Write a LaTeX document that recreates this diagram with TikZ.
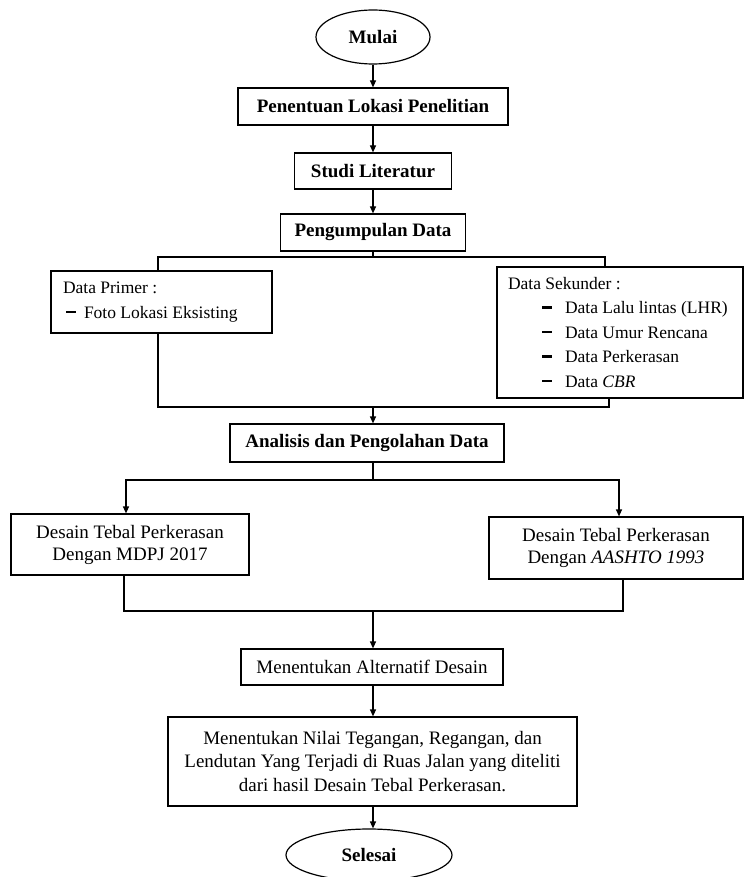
\documentclass[tikz,border=0pt]{standalone}
\usepackage{fontspec}
\setmainfont{Liberation Serif}
\usetikzlibrary{shapes.geometric,arrows.meta}
\newcommand{\butir}[2]{\hspace*{#1}\rule[5pt]{10pt}{2.6pt}\hspace{#2}}

\begin{document}
\begin{tikzpicture}[x=1pt,y=-1pt,line width=1.2pt,>={Triangle[length=7pt,width=6pt]},
        kotak/.style={draw,rectangle,inner sep=0pt,align=center,font=\fontsize{19}{22}\selectfont},
        judul/.style={kotak,font=\bfseries\fontsize{19}{22}\selectfont},
        oval/.style={draw,ellipse,inner sep=0pt,font=\bfseries\fontsize{19}{22}\selectfont},
        daftar/.style={draw,rectangle,inner ysep=0pt,inner xsep=8pt,align=flush left,font=\fontsize{17.5}{24.5}\selectfont}]
        \useasboundingbox (0,0) rectangle (745,877);

        \node[oval,minimum width=114pt,minimum height=54pt](mulai)at(373,37){Mulai};
        \node[judul,minimum width=270pt,minimum height=37pt](lokasi)at(373,106.5){Penentuan Lokasi Penelitian};
        \node[judul,minimum width=157pt,minimum height=36pt](studi)at(373,171){Studi Literatur};
        \node[judul,minimum width=185pt,minimum height=37pt](kumpul)at(373,232.5){Pengumpulan Data};

        \node[daftar,text width=205pt,minimum height=62pt](primer)at(161.5,302){\hspace*{4pt}Data Primer :\\
                \butir{7pt}{8pt}Foto Lokasi Eksisting};
        \node[daftar,text width=230pt,minimum height=131pt](sekunder)at(620,332.5){\hspace*{3pt}Data Sekunder :\\
                \butir{37pt}{13pt}Data Lalu lintas (LHR)\\
                \butir{37pt}{13pt}Data Umur Rencana\\
                \butir{37pt}{13pt}Data Perkerasan\\
                \butir{37pt}{13pt}Data \textit{CBR}};

        \node[judul,minimum width=274pt,minimum height=38pt](analisis)at(367,443){Analisis dan Pengolahan Data};
        \node[kotak,minimum width=238pt,minimum height=61pt](mdpj)at(130,544.5){Desain Tebal Perkerasan\\Dengan MDPJ 2017};
        \node[kotak,minimum width=254pt,minimum height=62pt](aashto)at(616,548){Desain Tebal Perkerasan\\Dengan \textit{AASHTO 1993}};
        \node[kotak,minimum width=262pt,minimum height=36pt](alternatif)at(372,667){Menentukan Alternatif Desain};
        \node[kotak,minimum width=409pt,minimum height=89pt,font=\fontsize{19}{23.3}\selectfont](nilai)at(372.5,761.5){Menentukan Nilai Tegangan, Regangan, dan\\
                Lendutan Yang Terjadi di Ruas Jalan yang diteliti\\
                dari hasil Desain Tebal Perkerasan.};
        \node[oval,minimum width=166pt,minimum height=52pt](selesai)at(369,855){Selesai};

        % alur utama
        \draw[->](mulai.south-|lokasi.north)--(lokasi.north);
        \draw[->](lokasi.south)--(studi.north);
        \draw[->](studi.south)--(studi.south|-kumpul.north);

        % pembagian data
        \coordinate(pisah)at(373,257);
        \coordinate(gabung)at(373,407);
        \draw(pisah|-kumpul.south)--(pisah);
        \draw(pisah)-|([xshift=-3.5pt]primer.north);
        \draw(pisah)-|([xshift=-15pt]sekunder.north);
        \draw([xshift=-3.5pt]primer.south)|-(gabung);
        \draw([xshift=-11pt]sekunder.south)|-(gabung);
        \draw[->](gabung)--(gabung|-analisis.north);

        % desain tebal perkerasan
        \coordinate(cabang)at(373,480);
        \coordinate(temu)at(373,611);
        \draw(cabang|-analisis.south)--(cabang);
        \draw[->](cabang)-|([xshift=-4pt]mdpj.north);
        \draw[->](cabang)-|([xshift=3pt]aashto.north);
        \draw([xshift=-6pt]mdpj.south)|-(temu);
        \draw([xshift=7pt]aashto.south)|-(temu);
        \draw[->](temu)--(temu|-alternatif.north);
        \draw[->](alternatif.south-|temu)--(temu|-nilai.north);
        \draw[->](nilai.south-|temu)--(temu|-selesai.north);
    \end{tikzpicture}
\end{document}
